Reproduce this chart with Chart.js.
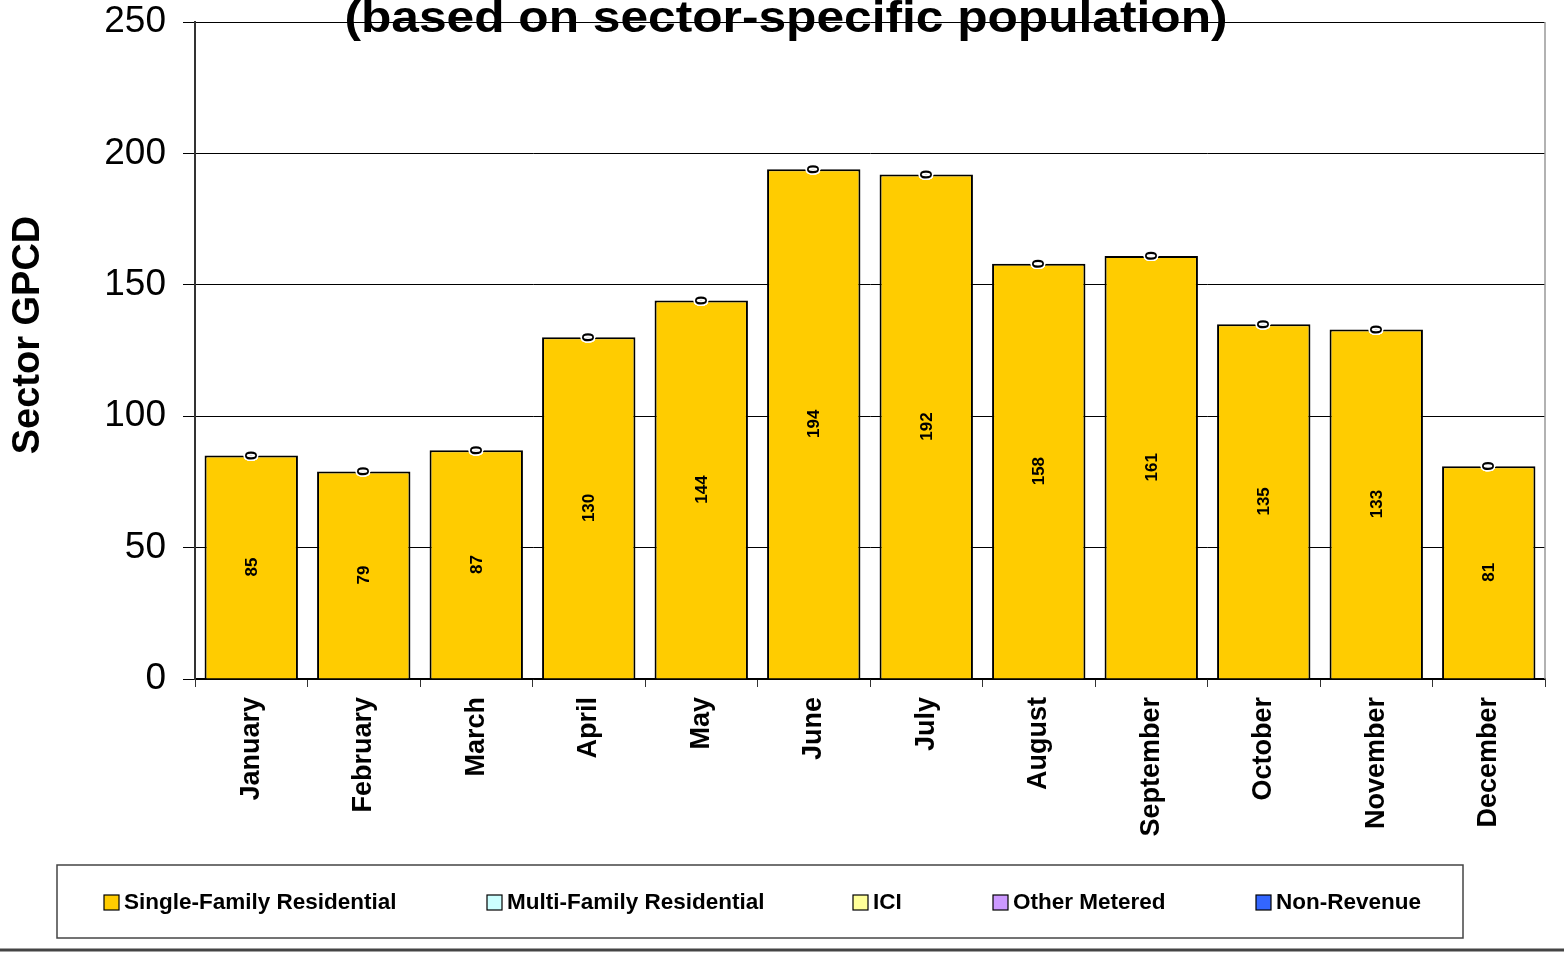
<!DOCTYPE html>
<html>
<head>
<meta charset="utf-8">
<script src="https://cdn.jsdelivr.net/npm/chart.js@4/dist/chart.umd.min.js"></script>
<style>
  html, body { margin: 0; padding: 0; background: #fff; }
  canvas { display: block; }
</style>
</head>
<body>
<canvas id="gpcd" width="1564" height="953"></canvas>
<script>
const months = ["January", "February", "March", "April", "May", "June",
    "July", "August", "September", "October", "November", "December"];
const singleFamily = [85, 79, 87, 130, 144, 194, 192, 158, 161, 135, 133, 81];
const multiFamily = [0, 0, 0, 0, 0, 0, 0, 0, 0, 0, 0, 0];
const ici = [0, 0, 0, 0, 0, 0, 0, 0, 0, 0, 0, 0];
const otherMetered = [0, 0, 0, 0, 0, 0, 0, 0, 0, 0, 0, 0];
const nonRevenue = [0, 0, 0, 0, 0, 0, 0, 0, 0, 0, 0, 0];
const seriesNames = ["Single-Family Residential", "Multi-Family Residential", "ICI", "Other Metered", "Non-Revenue"];
const seriesColors = ["#FFCC00", "#CCFFFF", "#FFFF99", "#CC99FF", "#3366FF"];
const titleText = "(based on sector-specific population)";
const yTitle = "Sector GPCD";

const fontFamily = "'Liberation Sans', Arial, sans-serif";

// value labels inside bars, and the "0" labels of the empty sectors at the top
const barLabels = {
    id: "barLabels",
    afterDatasetsDraw(chart) {
        const ctx = chart.ctx;
        ctx.save();
        ctx.fillStyle = "#000";
        ctx.textAlign = "center";
        ctx.textBaseline = "middle";
        ctx.font = "bold 17px " + fontFamily;
        chart.data.datasets.forEach((ds, di) => {
            const meta = chart.getDatasetMeta(di);
            meta.data.forEach((bar, i) => {
                const v = ds.data[i];
                const y = di === 0 ? (bar.y + bar.base) / 2 : bar.y;
                ctx.save();
                ctx.translate(bar.x, y);
                ctx.rotate(-Math.PI / 2);
                if (di > 0) {
                    ctx.strokeStyle = "#fff";
                    ctx.lineWidth = 2.5;
                    ctx.strokeText(String(v), 0, 1);
                }
                ctx.fillText(String(v), 0, 1);
                ctx.restore();
            });
        });
        ctx.restore();
    }
};

// cut-off title, axis title, right border, legend box and bottom rule
const extras = {
    id: "extras",
    afterDraw(chart) {
        const ctx = chart.ctx;
        const area = chart.chartArea;
        ctx.save();

        ctx.strokeStyle = "#999";
        ctx.lineWidth = 1.5;
        ctx.beginPath();
        ctx.moveTo(area.right, area.top);
        ctx.lineTo(area.right, area.bottom);
        ctx.stroke();

        ctx.font = "bold 44px " + fontFamily;
        ctx.fillStyle = "#000";
        ctx.textAlign = "center";
        ctx.textBaseline = "alphabetic";
        const w = ctx.measureText(titleText).width;
        ctx.save();
        ctx.translate(786, 32);
        ctx.scale(883 / w, 1);
        ctx.fillText(titleText, 0, 0);
        ctx.restore();

        ctx.save();
        ctx.font = "bold 38px " + fontFamily;
        ctx.textBaseline = "middle";
        ctx.translate(29, 335);
        ctx.rotate(-Math.PI / 2);
        ctx.fillText(yTitle, 0, 0);
        ctx.restore();

        ctx.strokeStyle = "#444";
        ctx.lineWidth = 1.5;
        ctx.strokeRect(57, 865, 1406, 73);

        const itemX = [104, 487, 853, 993, 1256];
        ctx.font = "bold 22.5px " + fontFamily;
        ctx.textAlign = "left";
        ctx.textBaseline = "middle";
        seriesNames.forEach((name, i) => {
            ctx.fillStyle = seriesColors[i];
            ctx.fillRect(itemX[i], 895, 15, 15);
            ctx.strokeStyle = "#000";
            ctx.lineWidth = 1.2;
            ctx.strokeRect(itemX[i], 895, 15, 15);
            ctx.fillStyle = "#000";
            ctx.fillText(name, itemX[i] + 20, 903);
        });

        ctx.strokeStyle = "#444";
        ctx.lineWidth = 3;
        ctx.beginPath();
        ctx.moveTo(0, 950);
        ctx.lineTo(1564, 950);
        ctx.stroke();
        ctx.restore();
    }
};

const allSeries = [singleFamily, multiFamily, ici, otherMetered, nonRevenue];

new Chart(document.getElementById("gpcd"), {
    type: "bar",
    data: {
        labels: months,
        datasets: allSeries.map((values, i) => ({
            label: seriesNames[i],
            data: values,
            backgroundColor: seriesColors[i],
            borderColor: "#000",
            borderWidth: 2,
            barPercentage: 0.83,
            categoryPercentage: 1
        }))
    },
    options: {
        responsive: false,
        animation: false,
        layout: { padding: { top: 22, right: 19, left: 0, bottom: 0 } },
        plugins: {
            legend: { display: false },
            tooltip: { enabled: false }
        },
        scales: {
            x: {
                stacked: true,
                afterFit: (scale) => {
                    scale.height = 274;
                    scale.paddingLeft = 0;
                    scale.paddingRight = 0;
                },
                grid: {
                    drawOnChartArea: false,
                    color: "#000",
                    tickColor: "#333",
                    tickLength: 8
                },
                border: { color: "#000", width: 1.5 },
                ticks: {
                    color: "#000",
                    minRotation: 90,
                    maxRotation: 90,
                    padding: 10,
                    autoSkip: false,
                    font: { family: fontFamily, size: 27, weight: "bold" }
                }
            },
            y: {
                stacked: true,
                min: 0,
                max: 250,
                afterFit: (scale) => {
                    scale.width = 195;
                    scale.paddingTop = 0;
                    scale.paddingBottom = 0;
                },
                grid: {
                    color: "#000",
                    lineWidth: 1,
                    tickColor: "#000",
                    tickLength: 12
                },
                border: { color: "#333", width: 2 },
                ticks: {
                    stepSize: 50,
                    color: "#000",
                    padding: 17,
                    font: { family: fontFamily, size: 37 }
                }
            }
        }
    },
    plugins: [barLabels, extras]
});
</script>
</body>
</html>
